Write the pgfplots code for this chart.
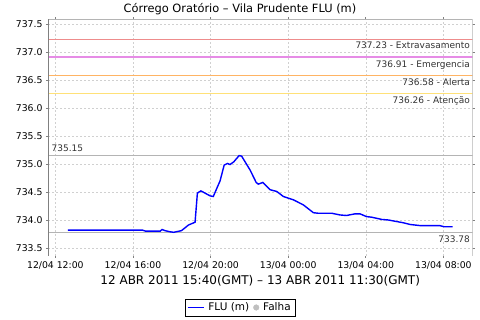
\documentclass[border=0pt]{standalone}
\usepackage{pgfplots}
\pgfplotsset{compat=1.18}
\usepackage{fontspec}
\setmainfont{DejaVu Sans}
\definecolor{axgray}{RGB}{128,128,128}
\definecolor{gridgray}{RGB}{208,208,208}
\definecolor{linegray}{RGB}{180,180,180}
\definecolor{thrred}{RGB}{238,140,140}
\definecolor{thrvio}{RGB}{230,140,230}
\definecolor{throra}{RGB}{255,180,100}
\definecolor{thryel}{RGB}{255,225,120}
\definecolor{flublue}{RGB}{0,0,255}
\begin{document}
\begin{tikzpicture}
\path[use as bounding box] (0,0) rectangle (480pt,320pt);
\begin{axis}[
  at={(48pt,64pt)}, anchor=south west,
  width=424.5pt, height=236.7pt, scale only axis,
  xmin=11.62, xmax=33.5, ymin=733.357, ymax=737.584,
  xtick={12,16,20,24,28,32},
  xticklabels={12/04 12:00,12/04 16:00,12/04 20:00,13/04 00:00,13/04 04:00,13/04 08:00},
  ytick={733.5,734,734.5,735,735.5,736,736.5,737,737.5},
  yticklabel style={/pgf/number format/.cd,fixed,fixed zerofill,precision=1,use period},
  /pgf/number format/assume math mode=true,
  ticklabel style={font=\fontsize{9.3}{11}\selectfont},
  tick align=outside, major tick length=2pt,
  tick style={draw=axgray, line width=0.6pt},
  axis line style={draw=none},
  xmajorgrids, ymajorgrids,
  grid style={draw=gridgray, dash pattern=on 2pt off 2pt, line width=0.5pt},
  xlabel={12 ABR 2011 15:40(GMT) – 13 ABR 2011 11:30(GMT)},
  xlabel style={font=\fontsize{12}{14}\selectfont, yshift=1pt},
  legend style={at={(0.452,-0.2176)}, anchor=center,
    font=\fontsize{10.5}{12}\selectfont, inner sep=2pt, column sep=2pt},
  legend columns=2,
  clip=true,
]
% thresholds
\addplot[draw=thrred, line width=1.2pt, forget plot] coordinates {(11.62,737.23) (33.5,737.23)};
\addplot[draw=thrvio, line width=1.2pt, forget plot] coordinates {(11.62,736.91) (33.5,736.91)};
\addplot[draw=throra, line width=1.2pt, forget plot] coordinates {(11.62,736.58) (33.5,736.58)};
\addplot[draw=thryel, line width=1.2pt, forget plot] coordinates {(11.62,736.26) (33.5,736.26)};
\addplot[draw=linegray, line width=0.8pt, forget plot] coordinates {(11.62,735.15) (33.5,735.15)};
\addplot[draw=linegray, line width=0.8pt, forget plot] coordinates {(11.62,733.78) (33.5,733.78)};
\addplot[draw=flublue, line width=1.4pt, forget plot] coordinates {
(12.65,733.82) (16.48,733.82) (16.65,733.80) (17.40,733.80) (17.50,733.83) (17.65,733.81)
(17.90,733.79) (18.10,733.78) (18.50,733.81) (18.86,733.91) (19.20,733.96) (19.32,734.48)
(19.50,734.52) (19.98,734.43) (20.14,734.42) (20.49,734.70) (20.70,734.98) (20.87,735.01)
(21.00,734.99) (21.20,735.04) (21.47,735.15) (21.60,735.14) (22.04,734.89) (22.35,734.67)
(22.46,734.64) (22.69,734.67) (23.07,734.54) (23.41,734.51) (23.75,734.42) (24.27,734.36)
(24.78,734.27) (25.30,734.13) (25.56,734.12) (26.25,734.12) (26.67,734.09) (27.00,734.08)
(27.45,734.11) (27.70,734.11) (28.04,734.06) (28.30,734.05) (28.82,734.01) (29.16,734.00)
(29.94,733.95) (30.28,733.92) (30.80,733.90) (31.80,733.90) (32.03,733.88) (32.48,733.88)
};
\addlegendimage{legend image code/.code={\draw[draw=flublue, line width=1.4pt] (0pt,0pt) -- (16pt,0pt);}}
\addlegendentry{FLU (m)}
\addlegendimage{legend image code/.code={\fill[black!25] (5pt,0pt) circle (2.8pt);}}
\addlegendentry{Falha}
% border
\draw[draw=linegray, line width=0.6pt] (rel axis cs:0,1) -- (rel axis cs:1,1) -- (rel axis cs:1,0);
\draw[draw=axgray, line width=0.7pt] (rel axis cs:0,1) -- (rel axis cs:0,0) -- (rel axis cs:1,0);
\begin{scope}[every node/.style={font=\fontsize{9}{10}\selectfont, inner sep=1.5pt, text=black!80}]
\node[anchor=north east, yshift=-1.5pt] at (axis cs:33.45,737.23) {737.23 - Extravasamento};
\node[anchor=north east, yshift=-1.5pt] at (axis cs:33.45,736.91) {736.91 - Emergencia};
\node[anchor=north east, yshift=-1.5pt] at (axis cs:33.45,736.58) {736.58 - Alerta};
\node[anchor=north east, yshift=-1.5pt] at (axis cs:33.45,736.26) {736.26 - Atenção};
\node[anchor=south west, yshift=2pt] at (axis cs:11.72,735.15) {735.15};
\node[anchor=north east, yshift=-1.5pt] at (axis cs:33.45,733.78) {733.78};
\end{scope}
\end{axis}
\node[font=\fontsize{11.4}{13}\selectfont] at (240pt,311pt) {Córrego Oratório – Vila Prudente FLU (m)};
\end{tikzpicture}
\end{document}
